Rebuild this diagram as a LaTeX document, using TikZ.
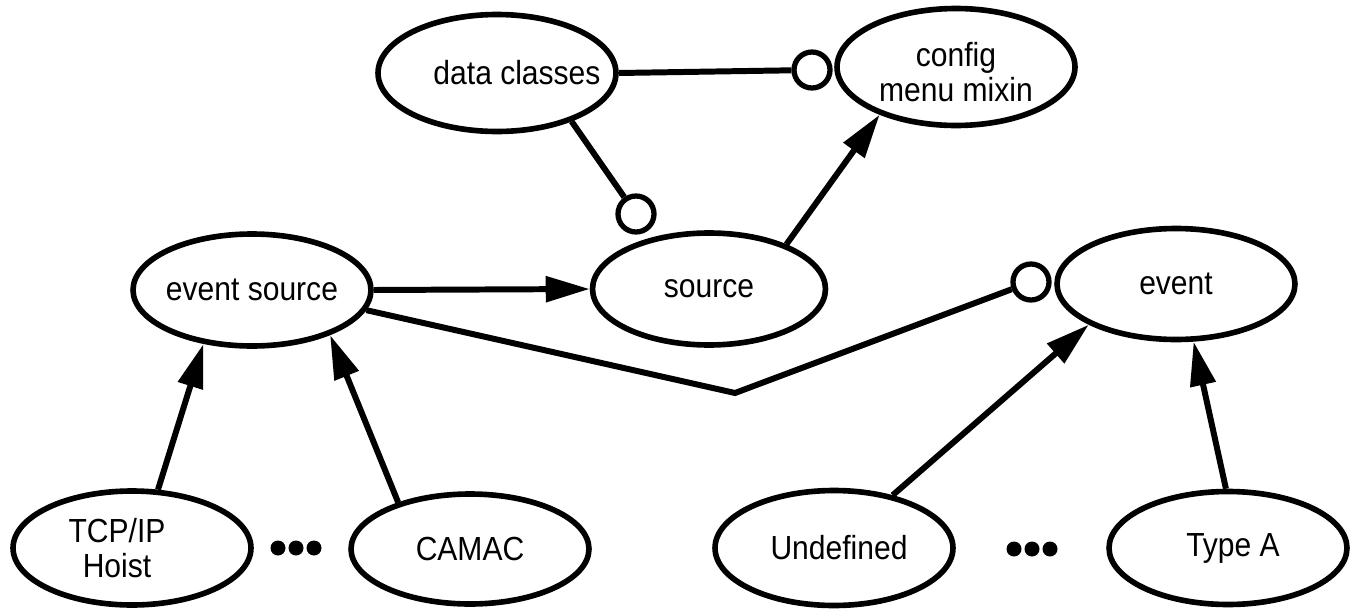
\documentclass[tikz,border=0pt]{standalone}
\usepackage{fontspec}
\setmainfont[FakeStretch=0.9]{Liberation Sans}
\usetikzlibrary{shapes.geometric,arrows.meta}
\begin{document}
\begin{tikzpicture}[x=0.02cm,y=-0.02cm,
  cls/.style={ellipse,draw,line width=3.2pt,inner sep=0pt,
    minimum width=4.76cm,minimum height=2.24cm},
  txt/.style={font=\fontsize{19}{20}\selectfont,align=center,inner sep=0pt},
  link/.style={line width=3.4pt},
  inherit/.style={link,-{Triangle[length=0.88cm,width=0.5cm]}},
  uses/.style={circle,draw,line width=3pt,fill=white,minimum size=0.72cm,inner sep=0pt},
  blob/.style={fill=black}]
\useasboundingbox (0,0) rectangle (1356,612);

% class ellipses
\node[cls,minimum height=2.34cm,label={[txt,xshift=0.4cm]center:data classes}] (dc) at (497,73) {};
\node[cls,minimum height=2.34cm,label={[txt,yshift=-0.1cm]center:config\\menu mixin}] (cfg) at (956,67) {};
\node[cls,label={[txt]center:event source}] (es) at (252,290) {};
\node[cls,minimum width=4.66cm,label={[txt]center:source}] (src) at (709,289) {};
\node[cls,minimum height=2.22cm,label={[txt]center:event}] (ev) at (1176,284) {};
\node[cls,minimum height=2.28cm,label={[txt,xshift=-0.3cm]center:TCP/IP\\Hoist}] (tcp) at (132,548) {};
\node[cls,minimum height=2.2cm,label={[txt]center:CAMAC}] (camac) at (470,549) {};
\node[cls,minimum height=2.3cm,label={[txt,xshift=0.1cm]center:Undefined}] (undef) at (834,548) {};
\node[cls,minimum height=2.26cm,label={[txt,xshift=0.1cm]center:Type A}] (typea) at (1228,548) {};

% elision marks
\foreach \cx in {278,296,314} \fill[blob] (\cx,548) circle (7.5);
\foreach \cx in {1014,1032,1050} \fill[blob] (\cx,549) circle (7.5);

% usage circles
\node[uses] (u1) at (812,70) {};
\node[uses] (u2) at (636,214) {};
\node[uses] (u3) at (1031,282) {};

% connectors
\draw[link] (dc.east) -- (u1);
\draw[link] (dc.-33) -- (u2);
\draw[inherit] (src.30) -- (cfg.-148);
\draw[inherit] (es.east) -- (src.west);
\coordinate (bend) at (735,393);
\draw[link] (es.-10) -- (bend) -- (u3);
\draw[inherit] (tcp.66) -- (es.-132);
\draw[inherit] (camac.147) -- (es.-30);
\draw[inherit] (undef.42) -- (ev.-155);
\draw[inherit] (typea.92) -- (ev.-73);
\end{tikzpicture}
\end{document}
